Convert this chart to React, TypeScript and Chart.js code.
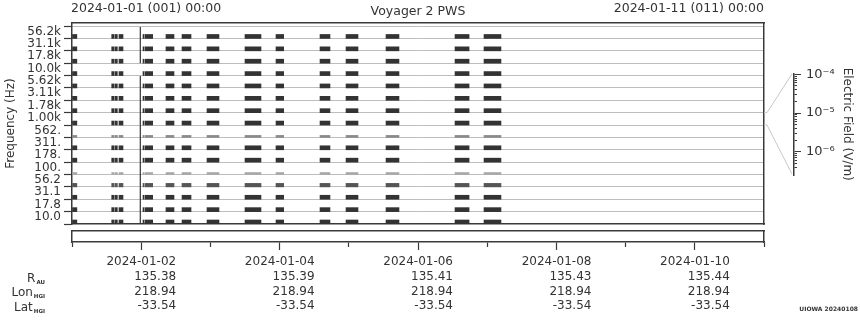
import React, { useEffect, useRef } from 'react';
import { Chart, registerables } from 'chart.js';

Chart.register(...registerables);

const FONT = "'DejaVu Sans', 'Noto Sans', sans-serif";
const TEXT = '#333333';
const FRAME = '#3a3a3a';
const GRID = '#bdbdbd';

// ---- data ----
const channelLabels = ['10.0', '17.8', '31.1', '56.2', '100.', '178.', '311.', '562.', '1.00k', '1.78k', '3.11k', '5.62k', '10.0k', '17.8k', '31.1k', '56.2k'];
// intensity class of each channel row, bottom (10 Hz) to top (56.2 kHz)
const channelShade = ['dark', 'dark', 'dark', 'mid', 'faint', 'dark', 'dark', 'light', 'dark', 'dark', 'dark', 'dark', 'dark', 'dark', 'dark', 'dark'];
// observation segments, days since 2024-01-01 00:00
const segStart = [0.0, 0.574, 0.621, 0.679, 1.026, 1.055, 1.358, 1.59, 1.951, 2.5, 2.948, 3.584, 3.96, 4.538, 5.535, 5.954];
const segEnd = [0.07, 0.607, 0.655, 0.737, 1.04, 1.166, 1.474, 1.72, 2.124, 2.731, 3.059, 3.728, 4.133, 4.725, 5.738, 6.199];
const gapLineDay = 0.987;
const gapLineFrom = [0, 13.0];
const gapLineTo = [11.96, 15.92];

const dayTicks = [0, 1, 2, 3, 4, 5, 6, 7, 8, 9, 10];
const labelDays = [1, 3, 5, 7, 9];
const dateLabels = ['2024-01-02', '2024-01-04', '2024-01-06', '2024-01-08', '2024-01-10'];
const rAU = ['135.38', '135.39', '135.41', '135.43', '135.44'];
const lonHGI = ['218.94', '218.94', '218.94', '218.94', '218.94'];
const latHGI = ['-33.54', '-33.54', '-33.54', '-33.54', '-33.54'];

const efieldTicks = [1e-6, 1e-5, 1e-4];
const efieldTickLabels = ['10\u207B\u2076', '10\u207B\u2075', '10\u207B\u2074'];
const efieldMin = 2.5e-7;
const efieldMax = 1.05e-4;

// ---- styles ----
const shadeStyle: Record<string, { color: string; thick: number }> = {
  dark: { color: '#333333', thick: 4 },
  mid: { color: '#555555', thick: 3.5 },
  light: { color: '#8a8a8a', thick: 2 },
  faint: { color: '#a8a8a8', thick: 2 },
};
const Y_MAX = 16.25;
const PX_PER_ROW = 201 / Y_MAX;

const hiddenFrameAxis = (axis: 'x' | 'y', position: string, min: number, max: number) => ({
  type: 'linear',
  axis,
  position,
  min,
  max,
  offset: false,
  ticks: { display: false },
  grid: { display: true, offset: false, drawOnChartArea: false, drawTicks: false },
  border: { display: true, color: FRAME, width: 1.5 },
});

function mainConfig(): any {
  const bars = channelLabels.map((lab, ch) => {
    const st = shadeStyle[channelShade[ch]];
    return {
      type: 'bar',
      label: lab,
      indexAxis: 'y',
      data: segStart.map((s, k) => ({ y: ch + st.thick / 2 / PX_PER_ROW, x: [s, segEnd[k]] })),
      backgroundColor: st.color,
      borderWidth: 0,
      barThickness: st.thick,
      grouped: false,
    };
  });
  const gaps = gapLineFrom.map((a, k) => ({
    type: 'line',
    label: 'gap' + k,
    data: [
      { x: gapLineDay, y: a },
      { x: gapLineDay, y: gapLineTo[k] },
    ],
    borderColor: '#333333',
    borderWidth: 1.2,
    pointRadius: 0,
  }));
  return {
    type: 'bar',
    data: { datasets: [...bars, ...gaps] },
    options: {
      indexAxis: 'y',
      animation: false,
      responsive: false,
      events: [],
      layout: { padding: { left: 0, top: 23, right: 96, bottom: 96 } },
      plugins: { legend: { display: false }, tooltip: { enabled: false }, title: { display: false } },
      scales: {
        x: hiddenFrameAxis('x', 'bottom', 0, 10),
        xTop: hiddenFrameAxis('x', 'top', 0, 10),
        yRight: hiddenFrameAxis('y', 'right', 0, Y_MAX),
        y: {
          type: 'linear',
          position: 'left',
          min: 0,
          max: Y_MAX,
          offset: false,
          afterBuildTicks: (s: any) => {
            s.ticks = Array.from({ length: channelLabels.length + 1 }, (_, i) => ({ value: i }));
          },
          afterFit: (s: any) => {
            s.width = 72;
          },
          ticks: {
            autoSkip: false,
            labelOffset: -7,
            padding: 3,
            color: TEXT,
            font: { family: FONT, size: 12 },
            callback: (v: any) => channelLabels[v] ?? '',
          },
          grid: {
            offset: false,
            color: (ctx: any) => (ctx.tick && ctx.tick.value === 0 ? 'rgba(0,0,0,0)' : GRID),
            lineWidth: 1,
            tickColor: FRAME,
            tickLength: 8,
            tickWidth: 1.2,
          },
          border: { display: true, color: FRAME, width: 1.5 },
          title: {
            display: true,
            text: 'Frequency (Hz)',
            color: TEXT,
            font: { family: FONT, size: 12 },
            padding: { top: 4, bottom: 0 },
          },
        },
      },
    },
  };
}

function boxConfig(): any {
  return {
    type: 'scatter',
    data: { datasets: [] },
    options: {
      animation: false,
      responsive: false,
      events: [],
      layout: { padding: { left: 72, top: 231, right: 96, bottom: 0 } },
      plugins: { legend: { display: false }, tooltip: { enabled: false } },
      scales: {
        y: hiddenFrameAxis('y', 'left', 0, 1),
        yRight: hiddenFrameAxis('y', 'right', 0, 1),
        xTop: hiddenFrameAxis('x', 'top', 0, 10),
        x: {
          type: 'linear',
          position: 'bottom',
          weight: 0,
          min: 0,
          max: 10,
          offset: false,
          afterBuildTicks: (s: any) => {
            s.ticks = dayTicks.map((v) => ({ value: v }));
          },
          ticks: { display: false },
          grid: { display: true, offset: false, drawOnChartArea: false, drawTicks: true, tickLength: 5, tickColor: FRAME, tickWidth: 1.2 },
          border: { display: true, color: FRAME, width: 1.5 },
        },
        x2: {
          type: 'linear',
          axis: 'x',
          position: 'bottom',
          weight: 1,
          min: 0,
          max: 10,
          offset: false,
          afterBuildTicks: (s: any) => {
            s.ticks = labelDays.map((v) => ({ value: v }));
          },
          afterFit: (s: any) => {
            s.height = 73;
          },
          ticks: {
            display: true,
            autoSkip: false,
            maxRotation: 0,
            minRotation: 0,
            align: 'end',
            labelOffset: 35,
            padding: 5,
            color: TEXT,
            font: { family: FONT, size: 12, lineHeight: 1.22 },
            callback: (v: any) => {
              const k = labelDays.indexOf(v);
              return k < 0 ? '' : [dateLabels[k], rAU[k], lonHGI[k], latHGI[k]];
            },
          },
          grid: { display: true, offset: false, drawOnChartArea: false, drawTicks: true, tickLength: 3, tickColor: FRAME, tickWidth: 1.2 },
          border: { display: false },
        },
      },
    },
  };
}

function isDecadeMultiple(v: number) {
  const e = Math.floor(Math.log10(v) + 1e-9);
  const m = v / Math.pow(10, e);
  return Math.abs(m - Math.round(m)) < 1e-6;
}

function cbConfig(): any {
  return {
    type: 'scatter',
    data: { datasets: [] },
    options: {
      animation: false,
      responsive: false,
      events: [],
      layout: { padding: { left: 10, top: 73.5, right: 0, bottom: 145 } },
      plugins: { legend: { display: false }, tooltip: { enabled: false } },
      scales: {
        x: { type: 'linear', display: false },
        y: {
          type: 'logarithmic',
          position: 'right',
          weight: 0,
          min: efieldMin,
          max: efieldMax,
          afterBuildTicks: (s: any) => {
            s.ticks = s.ticks.filter((t: any) => t.value > efieldMin && t.value <= efieldMax && isDecadeMultiple(t.value));
          },
          ticks: { display: false },
          grid: { display: true, drawOnChartArea: false, drawTicks: true, tickLength: 3, tickColor: FRAME, tickWidth: 1 },
          border: { display: true, color: FRAME, width: 1.5 },
        },
        y2: {
          type: 'logarithmic',
          axis: 'y',
          position: 'right',
          weight: 1,
          min: efieldMin,
          max: efieldMax,
          afterBuildTicks: (s: any) => {
            s.ticks = efieldTicks.map((v) => ({ value: v }));
          },
          afterFit: (s: any) => {
            s.width = 63;
          },
          ticks: {
            display: true,
            autoSkip: false,
            padding: 5,
            color: TEXT,
            font: { family: FONT, size: 13 },
            callback: (v: any) => {
              const k = efieldTicks.indexOf(v);
              return k < 0 ? '' : efieldTickLabels[k];
            },
          },
          grid: { display: true, drawOnChartArea: false, drawTicks: true, tickLength: 4, tickColor: FRAME, tickWidth: 1 },
          border: { display: false },
          title: {
            display: true,
            text: 'Electric Field (V/m)',
            color: TEXT,
            font: { family: FONT, size: 12 },
            padding: { top: 6, bottom: 0 },
          },
        },
      },
    },
  };
}

function SubLabel({ top, main, sub }: { top: number; main: string; sub: string }) {
  return (
    <div
      style={{
        position: 'absolute',
        right: 815,
        top,
        fontSize: 12,
        lineHeight: '14px',
        whiteSpace: 'nowrap',
        textAlign: 'right',
      }}
    >
      {main}
      <span style={{ fontSize: 5.5, fontWeight: 700, marginLeft: 1, position: 'relative', top: 2 }}>{sub}</span>
    </div>
  );
}

export default function App() {
  const mainRef = useRef<HTMLCanvasElement>(null);
  const boxRef = useRef<HTMLCanvasElement>(null);
  const cbRef = useRef<HTMLCanvasElement>(null);

  useEffect(() => {
    const charts: Chart[] = [];
    if (mainRef.current) charts.push(new Chart(mainRef.current, mainConfig()));
    if (boxRef.current) charts.push(new Chart(boxRef.current, boxConfig()));
    if (cbRef.current) charts.push(new Chart(cbRef.current, cbConfig()));
    return () => charts.forEach((c) => c.destroy());
  }, []);

  return (
    <div
      style={{
        position: 'fixed',
        left: 0,
        top: 0,
        width: 860,
        height: 320,
        background: '#ffffff',
        overflow: 'hidden',
        fontFamily: FONT,
        color: TEXT,
      }}
    >
      <canvas ref={mainRef} width={860} height={320} style={{ position: 'absolute', left: 0, top: 0 }} />
      <canvas ref={boxRef} width={860} height={320} style={{ position: 'absolute', left: 0, top: 0 }} />
      <canvas ref={cbRef} width={100} height={320} style={{ position: 'absolute', left: 760, top: 0 }} />
      <svg width={860} height={320} style={{ position: 'absolute', left: 0, top: 0, pointerEvents: 'none' }}>
        <polyline points="764,112.6 767,112.6 792,74" fill="none" stroke="#c8c8c8" strokeWidth={1} />
        <polyline points="764,125 767,125 792,174" fill="none" stroke="#c8c8c8" strokeWidth={1} />
      </svg>
      <div style={{ position: 'absolute', left: 71, top: 1, fontSize: 12.5, lineHeight: '14px', whiteSpace: 'nowrap' }}>
        2024-01-01 (001) 00:00
      </div>
      <div
        style={{
          position: 'absolute',
          left: 318,
          width: 200,
          top: 4,
          fontSize: 12.5,
          lineHeight: '14px',
          textAlign: 'center',
          whiteSpace: 'nowrap',
        }}
      >
        Voyager 2 PWS
      </div>
      <div style={{ position: 'absolute', right: 96, top: 1, fontSize: 12.5, lineHeight: '14px', whiteSpace: 'nowrap' }}>
        2024-01-11 (011) 00:00
      </div>
      <SubLabel top={270.5} main="R" sub="AU" />
      <SubLabel top={285} main="Lon" sub="HGI" />
      <SubLabel top={299.5} main="Lat" sub="HGI" />
      <div
        style={{
          position: 'absolute',
          right: 2,
          top: 305,
          fontSize: 6,
          lineHeight: '8px',
          fontWeight: 700,
          whiteSpace: 'nowrap',
        }}
      >
        UIOWA 20240108
      </div>
    </div>
  );
}
